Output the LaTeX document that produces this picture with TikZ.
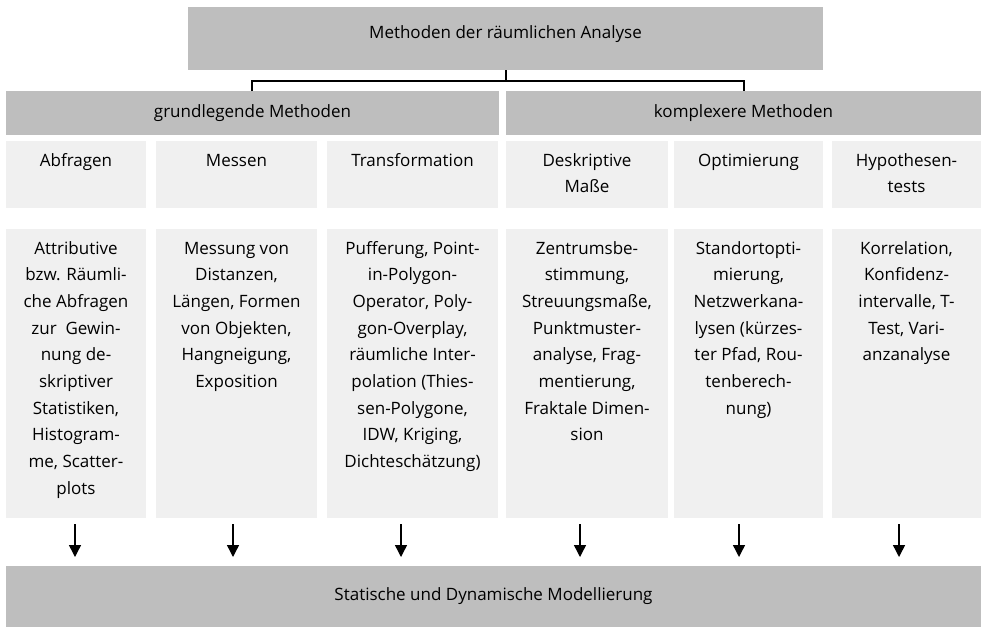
\documentclass[tikz,border=0pt]{standalone}
\usepackage{fontspec}
\setmainfont{Open Sans}
\usetikzlibrary{arrows.meta,calc}
\definecolor{dgray}{HTML}{BEBEBE}
\definecolor{lgray}{HTML}{F0F0F0}
\newcommand{\mltext}[1]{\parbox[t]{200pt}{\centering\fontsize{17}{26.7}\selectfont #1}}
\begin{document}
\begin{tikzpicture}[x=1pt,y=-1pt,
  box/.style={draw=none,inner sep=0pt,outer sep=0pt,anchor=north west},
  dbox/.style={box,fill=dgray},
  lbox/.style={box,fill=lgray},
  lbl/.style={inner sep=0pt,anchor=base,align=center,font=\fontsize{17}{26.7}\selectfont},
  arr/.style={line width=1.4pt,-{Triangle[width=12pt,length=12pt]}},
  conn/.style={line width=1.3pt}]
\useasboundingbox (0,0) rectangle (981,627);
% top
\node[dbox,minimum width=635pt,minimum height=63pt] (top) at (188,7) {};
\node[lbl] (tt) at (505.5,38) {Methoden der räumlichen Analyse};
% level 2
\node[dbox,minimum width=493pt,minimum height=44pt] (g) at (6,91) {};
\node[dbox,minimum width=475pt,minimum height=44pt] (k) at (506,91) {};
\node[lbl] (gt) at (g.center) [yshift=-4pt] {grundlegende Methoden};
\node[lbl] (kt) at (k.center) [yshift=-4pt] {komplexere Methoden};
% connectors
\coordinate (j) at (506,81);
\coordinate (jl) at (252,81);
\coordinate (jr) at (744,81);
\draw[conn] (top.south -| j) -- (j);
\draw[conn] (g.north -| jl) -- (jl) -- (jr) -- (k.north -| jr);
% level 3
\node[lbox,minimum width=140pt,minimum height=67pt] (h1) at (6,141) {};
\node[lbox,minimum width=161pt,minimum height=67pt] (h2) at (156,141) {};
\node[lbox,minimum width=171pt,minimum height=67pt] (h3) at (327,141) {};
\node[lbox,minimum width=162pt,minimum height=67pt] (h4) at (506,141) {};
\node[lbox,minimum width=149pt,minimum height=67pt] (h5) at (674,141) {};
\node[lbox,minimum width=149pt,minimum height=67pt] (h6) at (832,141) {};
\node[lbl] (ht1) at (h1.north) [yshift=-25pt] {\mltext{Abfragen}};
\node[lbl] (ht2) at (h2.north) [yshift=-25pt] {\mltext{Messen}};
\node[lbl] (ht3) at (h3.north) [yshift=-25pt] {\mltext{Transformation}};
\node[lbl] (ht4) at (h4.north) [yshift=-25pt] {\mltext{Deskriptive\\Maße}};
\node[lbl] (ht5) at (h5.north) [yshift=-25pt] {\mltext{Optimierung}};
\node[lbl] (ht6) at (h6.north) [yshift=-25pt] {\mltext{Hypothesen-\\tests}};
% level 4
\node[lbox,minimum width=140pt,minimum height=289pt] (b1) at (6,229) {};
\node[lbox,minimum width=161pt,minimum height=289pt] (b2) at (156,229) {};
\node[lbox,minimum width=171pt,minimum height=289pt] (b3) at (327,229) {};
\node[lbox,minimum width=162pt,minimum height=289pt] (b4) at (506,229) {};
\node[lbox,minimum width=149pt,minimum height=289pt] (b5) at (674,229) {};
\node[lbox,minimum width=149pt,minimum height=289pt] (b6) at (832,229) {};
\node[lbl] (bt1) at (b1.north) [yshift=-25pt] {\mltext{Attributive\\bzw. Räumli-\\che Abfragen\\zur~ Gewin-\\nung de-\\skriptiver\\Statistiken,\\Histogram-\\me, Scatter-\\plots}};
\node[lbl] (bt2) at (b2.north) [yshift=-25pt] {\mltext{Messung von\\Distanzen,\\Längen, Formen\\von Objekten,\\Hangneigung,\\Exposition}};
\node[lbl] (bt3) at (b3.north) [yshift=-25pt] {\mltext{Pufferung, Point-\\in-Polygon-\\Operator, Poly-\\gon-Overplay,\\räumliche Inter-\\polation (Thies-\\sen-Polygone,\\IDW, Kriging,\\Dichteschätzung)}};
\node[lbl] (bt4) at (b4.north) [yshift=-25pt] {\mltext{Zentrumsbe-\\stimmung,\\Streuungsmaße,\\Punktmuster-\\analyse, Frag-\\mentierung,\\Fraktale Dimen-\\sion}};
\node[lbl] (bt5) at (b5.north) [yshift=-25pt] {\mltext{Standortopti-\\mierung,\\Netzwerkana-\\lysen (kürzes-\\ter Pfad, Rou-\\tenberech-\\nung)}};
\node[lbl] (bt6) at (b6.north) [yshift=-25pt] {\mltext{Korrelation,\\Konfidenz-\\intervalle, T-\\Test, Vari-\\anzanalyse}};
% bottom
\node[dbox,minimum width=975pt,minimum height=61pt] (bot) at (6,566) {};
\node[lbl] (bott) at (bot.north) [yshift=-34pt] {Statische und Dynamische Modellierung};
% arrows
\coordinate (a1) at (75,524);
\coordinate (a2) at (233,524);
\coordinate (a3) at (401,524);
\coordinate (a4) at (580,524);
\coordinate (a5) at (739,524);
\coordinate (a6) at (899,524);
\foreach \i in {1,...,6}{
  \draw[arr,shorten >=9pt] (a\i) -- (a\i |- bot.north);
}
\end{tikzpicture}
\end{document}
